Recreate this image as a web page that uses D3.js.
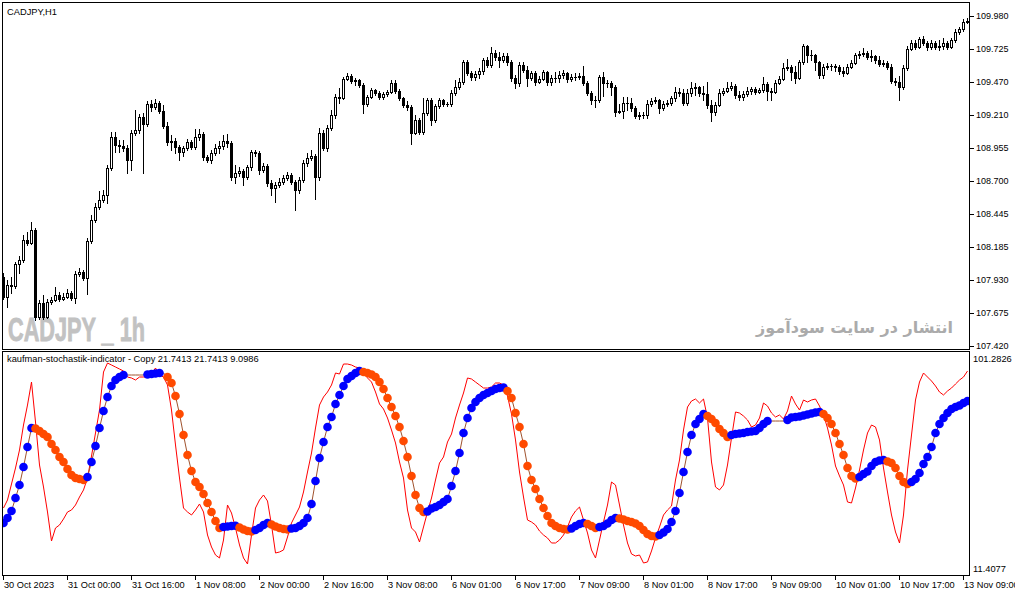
<!DOCTYPE html>
<html><head><meta charset="utf-8">
<script src="https://cdn.jsdelivr.net/npm/d3@7/dist/d3.min.js"></script>
<style>html,body{margin:0;padding:0;background:#fff;}svg{display:block;}</style>
</head><body>
<svg id="chart" width="1015" height="596"></svg>
<script>
const symbolTitle = "CADJPY,H1";
const indicatorTitle = "kaufman-stochastik-indicator - Copy 21.7413 21.7413 9.0986";
const watermarkLatin = "CADJPY _ 1h";
const watermarkPersian = "انتشار در سایت سودآموز";

const firstOpen = 107.953;
const closes = [107.798,107.891,107.883,108.054,108.085,108.241,108.217,108.318,107.643,107.752,
107.643,107.759,107.775,107.814,107.783,107.798,107.829,107.790,107.977,107.992,
107.946,108.233,108.396,108.497,108.551,108.590,108.800,109.040,108.978,108.971,
108.955,108.862,109.071,109.095,109.196,109.141,109.297,109.273,109.304,109.242,
109.126,109.002,109.009,108.963,108.924,108.955,109.002,108.963,109.040,109.064,
108.885,108.862,108.916,108.955,108.971,109.009,108.994,108.730,108.761,108.776,
108.730,108.808,108.924,108.916,108.784,108.815,108.683,108.644,108.668,108.691,
108.722,108.745,108.691,108.629,108.707,108.839,108.877,108.893,108.730,109.071,
108.955,109.110,109.211,109.351,109.347,109.491,109.514,109.475,109.483,109.444,
109.297,109.351,109.405,109.382,109.351,109.374,109.390,109.460,109.398,109.343,
109.289,109.273,109.071,109.172,109.079,109.227,109.328,109.172,109.281,109.328,
109.297,109.293,109.382,109.429,109.467,109.623,109.537,109.506,109.530,109.553,
109.638,109.599,109.693,109.662,109.638,109.669,109.623,109.498,109.460,109.599,
109.561,109.498,109.537,109.467,109.491,109.545,109.467,109.498,109.502,109.522,
109.537,109.491,109.506,109.510,109.514,109.460,109.382,109.328,109.324,109.506,
109.460,109.456,109.429,109.234,109.242,109.304,109.308,109.266,109.203,109.211,
109.215,109.297,109.320,109.328,109.266,109.297,109.304,109.343,109.390,109.382,
109.304,109.382,109.421,109.425,109.382,109.374,109.289,109.234,109.289,109.382,
109.398,109.421,109.436,109.366,109.351,109.374,109.398,109.413,109.390,109.405,
109.452,109.398,109.390,109.460,109.491,109.576,109.584,109.545,109.498,109.623,
109.747,109.677,109.681,109.623,109.522,109.584,109.592,109.595,109.584,109.553,
109.537,109.584,109.615,109.677,109.685,109.693,109.662,109.666,109.638,109.607,
109.615,109.584,109.475,109.467,109.429,109.576,109.724,109.770,109.739,109.801,
109.770,109.739,109.770,109.739,109.747,109.770,109.739,109.793,109.856,109.879,
109.933,109.941];
const highs = [107.984,107.930,107.953,108.070,108.116,108.279,108.303,108.380,108.334,107.775,
107.814,107.783,107.798,107.876,107.837,107.829,107.860,107.845,108.000,108.023,
108.008,108.256,108.435,108.528,108.621,108.629,108.823,109.079,109.079,109.017,
109.017,108.978,109.095,109.250,109.219,109.227,109.320,109.328,109.335,109.320,
109.289,109.157,109.056,109.033,108.978,108.971,109.025,109.017,109.103,109.103,
109.079,108.901,108.940,108.986,109.009,109.056,109.064,109.009,108.823,108.808,
108.792,108.823,108.940,108.940,108.932,108.839,108.831,108.707,108.691,108.722,
108.745,108.769,108.761,108.707,108.730,108.862,108.916,108.940,108.908,109.110,
109.095,109.134,109.250,109.374,109.421,109.506,109.537,109.530,109.498,109.491,
109.460,109.366,109.421,109.413,109.398,109.390,109.405,109.483,109.483,109.413,
109.351,109.320,109.289,109.211,109.188,109.343,109.343,109.343,109.297,109.343,
109.335,109.312,109.405,109.483,109.498,109.638,109.638,109.553,109.553,109.576,
109.654,109.662,109.739,109.716,109.700,109.693,109.693,109.638,109.522,109.623,
109.623,109.592,109.553,109.553,109.514,109.561,109.553,109.522,109.545,109.553,
109.561,109.545,109.530,109.537,109.537,109.592,109.475,109.398,109.359,109.522,
109.545,109.483,109.475,109.444,109.297,109.351,109.351,109.343,109.281,109.234,
109.234,109.328,109.343,109.351,109.335,109.320,109.328,109.359,109.429,109.421,
109.413,109.413,109.467,109.460,109.436,109.436,109.467,109.328,109.312,109.413,
109.421,109.467,109.467,109.452,109.398,109.398,109.429,109.429,109.429,109.421,
109.506,109.467,109.421,109.483,109.514,109.615,109.646,109.599,109.592,109.638,
109.762,109.755,109.716,109.685,109.630,109.607,109.615,109.607,109.607,109.599,
109.584,109.607,109.638,109.693,109.708,109.731,109.708,109.716,109.677,109.669,
109.638,109.630,109.607,109.498,109.514,109.599,109.747,109.793,109.793,109.817,
109.825,109.786,109.793,109.786,109.793,109.809,109.786,109.809,109.879,109.894,
109.956,109.964];
const lows = [107.783,107.721,107.829,107.868,107.984,108.070,108.202,108.210,107.620,107.627,
107.627,107.635,107.744,107.767,107.767,107.775,107.790,107.775,107.752,107.961,
107.930,107.822,108.217,108.380,108.481,108.536,108.528,108.784,108.924,108.924,
108.932,108.761,108.784,109.056,109.071,108.761,109.126,109.242,109.258,109.227,
109.110,108.978,108.940,108.916,108.862,108.893,108.940,108.947,108.947,109.017,
108.862,108.846,108.839,108.901,108.916,108.947,108.963,108.707,108.683,108.738,
108.668,108.714,108.784,108.893,108.753,108.769,108.660,108.590,108.536,108.652,
108.676,108.707,108.676,108.474,108.606,108.691,108.815,108.862,108.559,108.707,
108.940,108.932,109.095,109.188,109.304,109.335,109.483,109.460,109.444,109.429,
109.227,109.281,109.343,109.366,109.335,109.335,109.359,109.382,109.382,109.328,
109.273,109.250,108.986,109.064,109.064,109.064,109.211,109.134,109.157,109.266,
109.281,109.281,109.281,109.366,109.413,109.452,109.522,109.483,109.483,109.498,
109.530,109.584,109.584,109.638,109.584,109.623,109.599,109.475,109.421,109.436,
109.545,109.436,109.483,109.444,109.460,109.483,109.444,109.444,109.467,109.467,
109.498,109.467,109.475,109.483,109.491,109.444,109.366,109.297,109.273,109.312,
109.359,109.429,109.366,109.203,109.227,109.188,109.250,109.242,109.188,109.180,
109.188,109.188,109.281,109.304,109.227,109.250,109.281,109.289,109.320,109.359,
109.289,109.289,109.359,109.366,109.359,109.328,109.266,109.165,109.211,109.281,
109.366,109.390,109.405,109.343,109.328,109.328,109.359,109.374,109.374,109.382,
109.390,109.328,109.328,109.382,109.452,109.483,109.561,109.483,109.460,109.491,
109.607,109.623,109.638,109.561,109.498,109.498,109.568,109.561,109.553,109.530,
109.514,109.530,109.576,109.607,109.654,109.669,109.646,109.630,109.615,109.592,
109.592,109.568,109.460,109.444,109.328,109.413,109.561,109.716,109.724,109.731,
109.755,109.716,109.724,109.724,109.716,109.724,109.724,109.731,109.778,109.840,
109.863,109.925];

const slowLine = [32.27,34.28,37.09,42.30,47.52,54.74,62.76,70.39,70.19,69.18,
67.98,66.78,63.97,61.56,58.75,56.75,53.94,51.53,50.33,49.93,
49.52,50.73,56.75,63.17,70.39,77.21,82.82,87.24,89.64,90.85,
91.65,91.65,91.65,91.65,91.65,91.65,91.85,92.05,92.25,92.45,
92.45,90.85,88.44,83.22,76.00,67.58,59.55,53.13,48.72,46.72,
43.91,40.30,36.69,33.07,30.27,30.67,30.87,31.07,31.15,30.47,
29.67,29.06,28.86,29.46,30.27,31.47,32.27,31.67,30.87,30.27,
29.87,29.67,30.07,30.27,31.07,32.27,34.28,39.90,49.12,58.35,
64.77,70.79,74.80,80.02,83.63,87.24,90.05,91.25,92.45,93.25,
92.85,92.45,91.85,90.85,88.84,86.03,82.42,78.81,75.20,70.79,
65.17,58.75,51.13,43.51,38.29,36.69,36.89,38.09,38.69,39.49,
40.70,41.90,47.12,53.13,60.36,68.38,74.40,78.41,80.82,82.42,
83.63,84.43,85.23,86.03,86.43,86.63,85.23,82.42,76.40,70.79,
63.97,55.14,49.52,45.91,41.90,38.29,35.08,32.27,31.07,30.27,
29.87,29.67,30.07,31.07,31.87,32.27,31.87,31.07,30.27,30.67,
31.07,32.07,33.48,34.28,34.08,33.68,33.07,32.67,32.07,31.07,
29.46,27.86,27.06,26.86,27.46,28.46,29.87,32.67,37.09,44.31,
52.73,60.76,67.58,71.99,74.00,76.00,75.20,74.00,72.39,69.99,
68.38,66.78,67.58,67.98,68.18,68.38,68.78,68.98,69.18,70.39,
71.99,73.19,73.19,73.19,73.19,73.19,73.60,74.60,74.80,75.00,
75.40,75.80,76.20,76.61,76.81,76.00,74.40,71.99,68.38,63.97,
59.55,54.34,51.13,50.13,50.73,51.93,52.93,55.14,56.75,57.35,
57.55,56.95,56.35,54.34,51.13,48.72,47.92,48.72,49.93,52.33,
55.94,58.75,62.76,68.38,71.99,74.40,76.40,78.01,78.81,79.41,
80.42,81.22];
const fastLine = [38.29,41.50,47.92,54.34,61.56,71.59,79.61,88.84,72.79,55.54,
46.72,36.69,25.05,30.27,31.47,33.88,36.69,37.49,39.49,42.70,
45.52,50.33,59.15,68.38,77.61,92.85,96.46,95.66,94.86,94.06,
93.25,90.85,90.45,89.64,90.85,90.85,90.85,92.05,94.46,91.65,
90.85,87.64,77.61,63.57,50.33,38.29,36.69,35.48,37.49,39.90,
36.69,27.46,22.64,19.43,18.23,25.45,39.49,36.28,30.27,23.45,
18.23,15.82,27.46,38.29,41.50,43.51,41.10,31.47,20.24,20.64,
21.44,26.66,32.27,35.48,38.69,44.71,52.73,60.36,70.39,79.61,
82.82,84.83,87.64,92.45,92.05,96.06,96.06,95.66,94.86,94.46,
92.85,90.45,88.84,84.83,80.02,78.01,74.40,69.59,64.37,56.75,
50.33,37.49,30.27,28.66,24.65,30.67,36.69,42.30,49.52,56.35,
58.75,64.77,67.98,74.40,79.61,84.43,90.45,90.05,88.84,87.64,
86.43,86.43,86.84,88.44,88.44,87.64,83.22,76.00,65.58,52.73,
42.70,33.48,32.67,31.47,29.06,27.46,26.25,24.25,24.25,25.45,
27.46,30.67,34.68,37.09,38.69,33.48,28.26,21.44,18.23,25.45,
32.67,39.49,48.72,47.52,39.49,31.47,24.25,19.84,19.03,19.43,
16.22,16.63,21.04,26.25,30.67,35.48,37.49,39.09,49.52,57.55,
69.59,78.81,81.22,82.02,80.42,82.02,74.40,56.75,46.72,45.52,
47.52,55.54,66.38,76.81,76.40,75.20,73.60,70.79,71.59,74.40,
80.42,79.21,76.40,74.80,75.60,74.00,77.21,83.22,80.02,77.61,
81.62,80.82,81.62,82.02,79.21,75.60,70.39,63.57,55.14,51.13,
47.52,40.70,40.30,46.31,53.54,61.56,68.38,71.59,70.79,65.58,
54.34,44.71,35.48,28.66,24.25,35.48,53.54,67.58,81.62,88.84,
92.45,90.85,89.24,87.24,84.83,83.63,85.23,86.43,88.04,89.64,
90.85,93.25];

const priceTicks = [109.980,109.725,109.470,109.210,108.955,108.700,108.445,108.185,107.930,107.675,107.420];
const indMax = 101.2826, indMin = 11.4077;
const timeLabels = ["30 Oct 2023","31 Oct 00:00","31 Oct 16:00","1 Nov 08:00","2 Nov 00:00","2 Nov 16:00",
"3 Nov 08:00","6 Nov 01:00","6 Nov 17:00","7 Nov 09:00","8 Nov 01:00","8 Nov 17:00","9 Nov 09:00",
"10 Nov 01:00","10 Nov 17:00","13 Nov 09:00"];
const timeLabelBars = [0,16,32,48,64,80,96,112,128,144,160,176,192,208,224,240];

// ---------- layout ----------
const svg = d3.select("#chart");
const FONT = "'Liberation Sans', Arial, sans-serif";
const left = 2, right = 969, mainTop = 2, mainBottom = 349, indTop = 351, indBottom = 575;
const upColor = "#0000ff", dnColor = "#ff4a00";

svg.append("rect").attr("width",1015).attr("height",596).attr("fill","#fff");

const x = d3.scaleLinear().domain([0, closes.length - 1]).range([3, 967]);
const yP = d3.scaleLinear().domain([107.42, 109.98]).range([345.7, 16]);
const yI = d3.scaleLinear().domain([indMin, indMax]).range([indBottom, indTop]);

const defs = svg.append("defs");
defs.append("clipPath").attr("id","clipMain").append("rect")
  .attr("x",left+1).attr("y",mainTop+1).attr("width",right-left-1).attr("height",mainBottom-mainTop-1);
defs.append("clipPath").attr("id","clipInd").append("rect")
  .attr("x",left+1).attr("y",indTop+1).attr("width",right-left-1).attr("height",indBottom-indTop-1);

// watermarks
svg.append("text").attr("x",8).attr("y",341).text(watermarkLatin)
  .attr("font-family",FONT).attr("font-weight","bold").attr("font-size",33.5)
  .attr("fill","#c2c2c2").attr("stroke","#c2c2c2").attr("stroke-width",0.9)
  .attr("textLength",137).attr("lengthAdjust","spacingAndGlyphs");
svg.append("text").attr("x",953).attr("y",333).attr("text-anchor","end").text(watermarkPersian)
  .attr("font-family","'DejaVu Sans', sans-serif").attr("font-weight","bold").attr("font-size",16)
  .attr("fill","#ababab");

// candles
const bars = closes.map((c,i)=>({i, o: i===0 ? firstOpen : closes[i-1], h: highs[i], l: lows[i], c}));
const cg = svg.append("g").attr("clip-path","url(#clipMain)").attr("shape-rendering","crispEdges");
const cx = d => Math.round(x(d.i));
const topPx = d => Math.round(yP(Math.max(d.o,d.c)));
const botPx = d => Math.round(yP(Math.min(d.o,d.c)));
cg.selectAll("line.wick").data(bars).join("line").attr("class","wick")
  .attr("x1", d=>cx(d)+0.5).attr("x2", d=>cx(d)+0.5)
  .attr("y1", d=>Math.round(yP(d.h))).attr("y2", d=>Math.round(yP(d.l))+1)
  .attr("stroke","#000").attr("stroke-width",1);
cg.selectAll("rect.body").data(bars.filter(d=>botPx(d)-topPx(d)>=1)).join("rect").attr("class","body")
  .attr("x", d=>cx(d)-0.5).attr("y", d=>topPx(d)+0.5)
  .attr("width",2).attr("height", d=>botPx(d)-topPx(d))
  .attr("fill", d=> d.c>=d.o ? "#fff" : "#000").attr("stroke","#000").attr("stroke-width",1);
cg.selectAll("line.doji").data(bars.filter(d=>botPx(d)-topPx(d)<1)).join("line").attr("class","doji")
  .attr("x1", d=>cx(d)-1).attr("x2", d=>cx(d)+2)
  .attr("y1", d=>topPx(d)+0.5).attr("y2", d=>topPx(d)+0.5)
  .attr("stroke","#000");

// indicator
const ig = svg.append("g").attr("clip-path","url(#clipInd)");
const lineGen = d3.line().x((v,i)=>x(i)+0.5).y(v=>yI(v));
ig.append("path").datum(fastLine).attr("d",lineGen).attr("fill","none")
  .attr("stroke","#ff0000").attr("stroke-width",1);
ig.append("path").datum(slowLine).attr("d",lineGen).attr("fill","none")
  .attr("stroke","#a0522d").attr("stroke-width",1);
const dots = slowLine.map((v,i)=>({i, v, col: i===0 ? upColor : (v>slowLine[i-1] ? upColor : (v<slowLine[i-1] ? dnColor : null))}))
  .filter(d=>d.col);
ig.selectAll("circle").data(dots).join("circle")
  .attr("cx", d=>x(d.i)+0.5).attr("cy", d=>yI(d.v)).attr("r",4.3).attr("fill", d=>d.col);

// frames
const fg = svg.append("g").attr("shape-rendering","crispEdges").attr("fill","none").attr("stroke","#000");
fg.append("rect").attr("x",left+0.5).attr("y",mainTop+0.5).attr("width",right-left).attr("height",mainBottom-mainTop);
fg.append("rect").attr("x",left+0.5).attr("y",indTop+0.5).attr("width",right-left).attr("height",indBottom-indTop);

// right price axis
const pa = svg.append("g");
pa.selectAll("line").data(priceTicks).join("line")
  .attr("x1",right+1).attr("x2",right+5)
  .attr("y1",d=>Math.round(yP(d))+0.5).attr("y2",d=>Math.round(yP(d))+0.5)
  .attr("stroke","#000").attr("shape-rendering","crispEdges");
pa.selectAll("text").data(priceTicks).join("text")
  .attr("x",976).attr("y",d=>yP(d)+3.3).text(d=>d.toFixed(3))
  .attr("font-family",FONT).attr("font-size",9).attr("fill","#000");

// indicator scale labels
svg.append("text").attr("x",973).attr("y",yI(indMax)+10.5).text(indMax.toFixed(4))
  .attr("font-family",FONT).attr("font-size",9.3).attr("fill","#000");
svg.append("text").attr("x",973).attr("y",yI(indMin)-3).text(indMin.toFixed(4))
  .attr("font-family",FONT).attr("font-size",9.3).attr("fill","#000");

// time axis
const ta = svg.append("g");
ta.selectAll("line").data(timeLabelBars).join("line")
  .attr("x1",d=>Math.round(x(d))+0.5).attr("x2",d=>Math.round(x(d))+0.5)
  .attr("y1",indBottom+1).attr("y2",indBottom+5)
  .attr("stroke","#000").attr("shape-rendering","crispEdges");
ta.selectAll("text").data(timeLabels).join("text")
  .attr("x",(d,i)=>Math.round(x(timeLabelBars[i]))+1).attr("y",588).text(d=>d)
  .attr("font-family",FONT).attr("font-size",9.2).attr("fill","#000");

// titles
svg.append("text").attr("x",7).attr("y",15).text(symbolTitle)
  .attr("font-family",FONT).attr("font-size",9.3).attr("fill","#000");
svg.append("text").attr("x",7).attr("y",362).text(indicatorTitle)
  .attr("font-family",FONT).attr("font-size",9.3).attr("fill","#000");
</script>
</body></html>
